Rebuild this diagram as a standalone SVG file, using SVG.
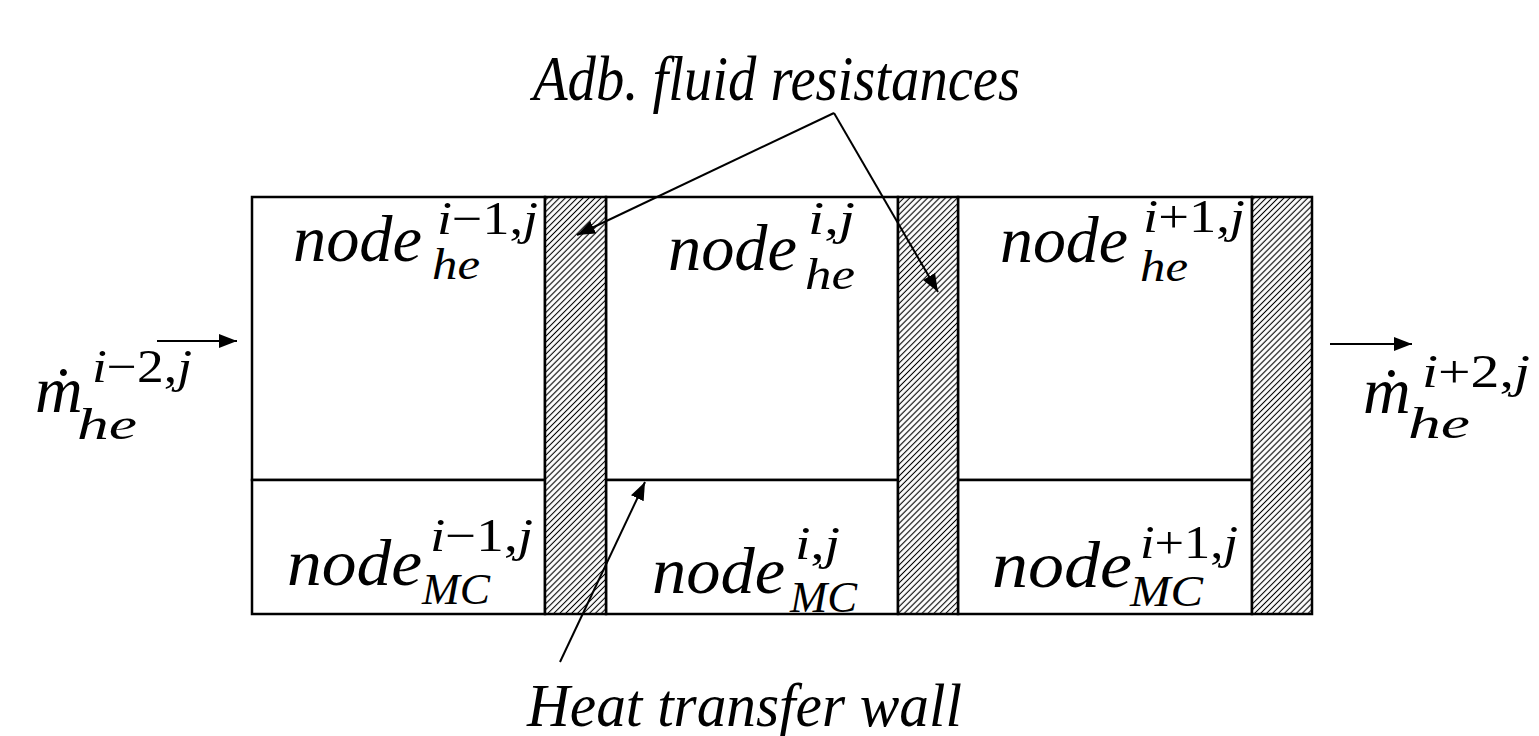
<svg xmlns="http://www.w3.org/2000/svg" width="1539" height="736" viewBox="0 0 1539 736">
<style>
.t{font-family:"Liberation Serif","Times New Roman",serif;font-style:italic;fill:#000}
.m{font-size:66px}
.sp{font-size:46px}
.sb{font-size:44px}
.u{font-style:normal}
.cell{fill:#fff;stroke:#000;stroke-width:2.5}
.wall{fill:url(#hatch);stroke:#000;stroke-width:2.5}
.ln{stroke:#000;stroke-width:2;fill:none}
</style>
<defs>
<pattern id="hatch" patternUnits="userSpaceOnUse" width="4.2" height="4.2" patternTransform="rotate(45)">
<rect width="4.2" height="4.2" fill="#fff"/>
<line x1="2.1" y1="-1" x2="2.1" y2="5.2" stroke="#000" stroke-width="1.1"/>
</pattern>
<marker id="ah" markerUnits="userSpaceOnUse" markerWidth="20" markerHeight="14" refX="18" refY="7" orient="auto">
<path d="M0,0 L18,7 L0,14 Z" fill="#000"/>
</marker>
</defs>
<rect width="1539" height="736" fill="#fff"/>

<g id="node-he-im1">
<rect class="cell" x="252" y="197" width="293" height="283"/>
<text class="t m" x="293" y="261" textLength="129" lengthAdjust="spacingAndGlyphs">node</text>
<text class="t sp" x="437" y="234" textLength="101" lengthAdjust="spacingAndGlyphs">i<tspan class="u">−1,</tspan>j</text>
<text class="t sb" x="432" y="279" textLength="48" lengthAdjust="spacingAndGlyphs">he</text>
</g>
<g id="node-mc-im1">
<rect class="cell" x="252" y="480" width="293" height="134"/>
<text class="t m" x="287" y="585" textLength="135" lengthAdjust="spacingAndGlyphs">node</text>
<text class="t sp" x="430" y="551" textLength="103" lengthAdjust="spacingAndGlyphs">i<tspan class="u">−1,</tspan>j</text>
<text class="t sb" x="422" y="604" textLength="68" lengthAdjust="spacingAndGlyphs">MC</text>
</g>
<g id="node-he-i">
<rect class="cell" x="606" y="197" width="292" height="283"/>
<text class="t m" x="668" y="270" textLength="129" lengthAdjust="spacingAndGlyphs">node</text>
<text class="t sp" x="808" y="234" textLength="47" lengthAdjust="spacingAndGlyphs">i<tspan class="u">,</tspan>j</text>
<text class="t sb" x="805" y="289" textLength="50" lengthAdjust="spacingAndGlyphs">he</text>
</g>
<g id="node-mc-i">
<rect class="cell" x="606" y="480" width="292" height="134"/>
<text class="t m" x="652" y="593" textLength="133" lengthAdjust="spacingAndGlyphs">node</text>
<text class="t sp" x="795" y="559" textLength="45" lengthAdjust="spacingAndGlyphs">i<tspan class="u">,</tspan>j</text>
<text class="t sb" x="790" y="612" textLength="67" lengthAdjust="spacingAndGlyphs">MC</text>
</g>
<g id="node-he-ip1">
<rect class="cell" x="958" y="197" width="294" height="283"/>
<text class="t m" x="1000" y="262" textLength="128" lengthAdjust="spacingAndGlyphs">node</text>
<text class="t sp" x="1143" y="232" textLength="102" lengthAdjust="spacingAndGlyphs">i<tspan class="u">+1,</tspan>j</text>
<text class="t sb" x="1140" y="281" textLength="48" lengthAdjust="spacingAndGlyphs">he</text>
</g>
<g id="node-mc-ip1">
<rect class="cell" x="958" y="480" width="294" height="134"/>
<text class="t m" x="992" y="587" textLength="140" lengthAdjust="spacingAndGlyphs">node</text>
<text class="t sp" x="1140" y="558" textLength="98" lengthAdjust="spacingAndGlyphs">i<tspan class="u">+1,</tspan>j</text>
<text class="t sb" x="1130" y="606" textLength="73" lengthAdjust="spacingAndGlyphs">MC</text>
</g>
<g id="wall-1"><rect class="wall" x="545" y="197" width="61" height="417"/></g>
<g id="wall-2"><rect class="wall" x="898" y="197" width="60" height="417"/></g>
<g id="wall-3"><rect class="wall" x="1252" y="197" width="60" height="417"/></g>

<g id="flow-in">
<text class="t m" x="35" y="412">ṁ</text>
<text class="t sp" x="92" y="382" textLength="100" lengthAdjust="spacingAndGlyphs">i<tspan class="u">−2,</tspan>j</text>
<text class="t sb" x="77" y="439" font-size="50" textLength="60" lengthAdjust="spacingAndGlyphs">he</text>
</g>
<g id="flow-out">
<text class="t m" x="1363" y="413">ṁ</text>
<text class="t sp" x="1422" y="387" textLength="108" lengthAdjust="spacingAndGlyphs">i<tspan class="u">+2,</tspan>j</text>
<text class="t sb" x="1408" y="438" font-size="50" textLength="62" lengthAdjust="spacingAndGlyphs">he</text>
</g>
<g id="label-adb">
<text class="t" font-size="64" x="533" y="100" textLength="487" lengthAdjust="spacingAndGlyphs">Adb. fluid resistances</text>
</g>
<g id="label-wall">
<text class="t" font-size="62" x="527" y="726" textLength="435" lengthAdjust="spacingAndGlyphs">Heat transfer wall</text>
</g>

<g id="connectors">
<line class="ln" x1="834" y1="113" x2="577" y2="235" marker-end="url(#ah)"/>
<line class="ln" x1="834" y1="113" x2="938" y2="292" marker-end="url(#ah)"/>
<line class="ln" x1="560" y1="662" x2="645" y2="482" marker-end="url(#ah)"/>
<line class="ln" x1="157" y1="341" x2="237" y2="341" marker-end="url(#ah)"/>
<line class="ln" x1="1330" y1="344" x2="1412" y2="344" marker-end="url(#ah)"/>
</g>
</svg>
